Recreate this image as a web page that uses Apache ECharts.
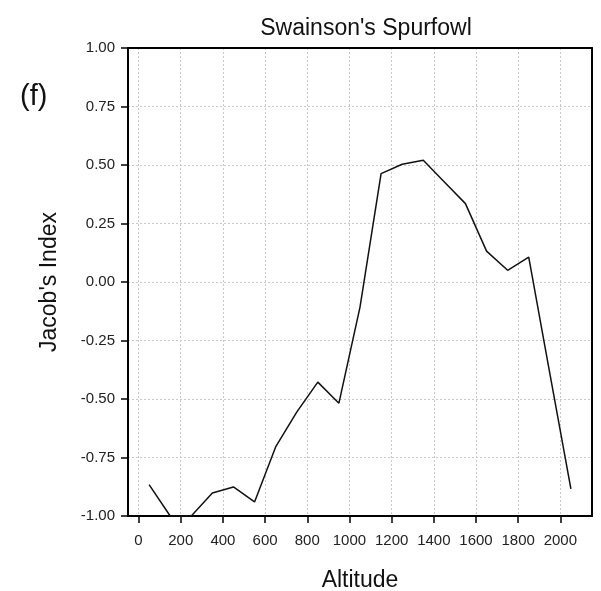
<!DOCTYPE html>
<html><head><meta charset="utf-8">
<script src="https://cdn.jsdelivr.net/npm/echarts@6/dist/echarts.min.js"></script>
<style>html,body{margin:0;padding:0;background:#fff}#c{width:601px;height:591px}</style>
</head><body><div id="c"></div>
<script>
const altitude = [50,150,250,350,450,550,650,750,850,950,1050,1150,1250,1350,1450,1550,1650,1750,1850,1950,2050];
const jacobIndex = [-0.866,-1.0,-1.0,-0.902,-0.876,-0.94,-0.705,-0.556,-0.428,-0.518,-0.107,0.463,0.503,0.52,0.427,0.335,0.132,0.05,0.106,-0.39,-0.884];
const xTicks = [0,200,400,600,800,1000,1200,1400,1600,1800,2000];
const yTicks = [-1,-0.75,-0.5,-0.25,0,0.25,0.5,0.75,1];
const FONT = 'Liberation Sans, Arial, sans-serif';
const chart = echarts.init(document.getElementById('c'));
const frameAxis = {axisLine:{show:true,onZero:false,lineStyle:{color:'#000',width:2}},axisTick:{show:false},axisLabel:{show:false},splitLine:{show:false}};
chart.setOption({
  animation:false,
  title:[{text:"Swainson's Spurfowl",left:361,top:12,textAlign:'center',textStyle:{fontFamily:FONT,fontSize:23,fontWeight:'normal',color:'#111'}},
         {text:'(f)',left:15,top:77,textStyle:{fontFamily:FONT,fontSize:29,fontWeight:'normal',color:'#111'}}],
  grid:{left:128,right:9,top:48,bottom:75,containLabel:false,outerBoundsMode:'none'},
  xAxis:[{type:'value',min:-50,max:2150,name:'Altitude',nameLocation:'middle',nameGap:53,
    nameTextStyle:{fontFamily:FONT,fontSize:23,color:'#111'},
    axisLine:{show:true,onZero:false,lineStyle:{color:'#000',width:2}},
    axisTick:{show:true,length:7,customValues:xTicks,lineStyle:{color:'#000',width:1.5}},
    axisLabel:{customValues:xTicks,margin:17,fontFamily:FONT,fontSize:15,color:'#222',formatter:v=>String(v)},
    splitLine:{show:true,lineStyle:{color:'#c8c8c8',type:[2,2],width:1}}},
    Object.assign({type:'value',position:'top',min:-50,max:2150},frameAxis)],
  yAxis:[{type:'value',min:-1,max:1,interval:0.25,name:"Jacob's Index",nameLocation:'middle',nameGap:67,
    nameTextStyle:{fontFamily:FONT,fontSize:23,color:'#111'},
    axisLine:{show:true,onZero:false,lineStyle:{color:'#000',width:2}},
    axisTick:{show:true,length:7,lineStyle:{color:'#000',width:1.5}},
    axisLabel:{margin:13,fontFamily:FONT,fontSize:15,color:'#222',formatter:v=>v.toFixed(2)},
    splitLine:{show:true,lineStyle:{color:'#c8c8c8',type:[2,2],width:1}}},
    Object.assign({type:'value',position:'right',min:-1,max:1},frameAxis)],
  series:[{type:'line',xAxisIndex:0,yAxisIndex:0,data:altitude.map((a,i)=>[a,jacobIndex[i]]),showSymbol:false,symbol:'none',
    lineStyle:{color:'#111',width:1.5},clip:false}]
});
</script></body></html>
